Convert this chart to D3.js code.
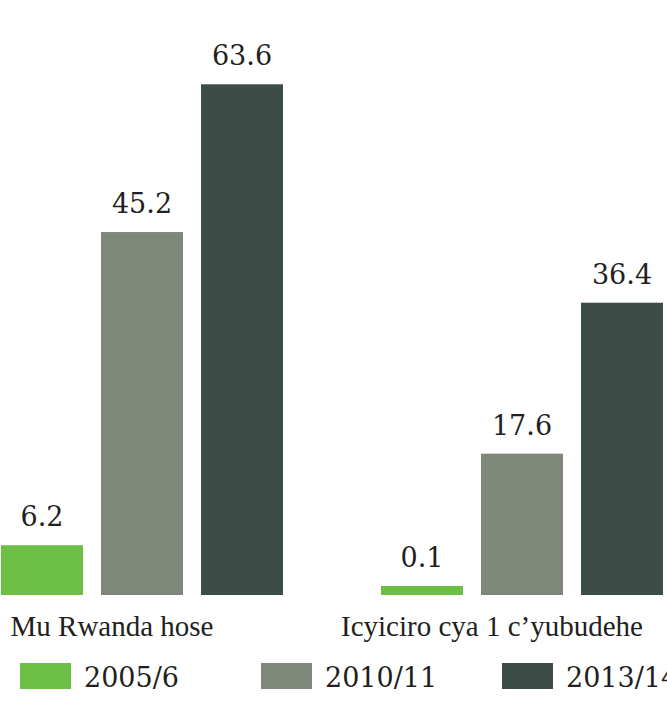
<!DOCTYPE html>
<html>
<head>
<meta charset="utf-8">
<script src="https://cdn.jsdelivr.net/npm/d3@7/dist/d3.min.js"></script>
<style>
  body { margin: 0; background: #fff; }
  svg { display: block; }
</style>
</head>
<body>
<div id="chart"></div>
<script>
// data
const categories = ["Mu Rwanda hose", "Icyiciro cya 1 c\u2019yubudehe"];
const series = ["2005/6", "2010/11", "2013/14"];
const values = {
    "2005/6": [6.2, 0.1],
    "2010/11": [45.2, 17.6],
    "2013/14": [63.6, 36.4]
};
const colors = ["#6dbe45", "#7f877b", "#3b4d46"];

const width = 667, height = 706;
const baseline = 595;
const minBar = 9; // tiny values still get a visible bar, like the original
const numFont = "'DejaVu Serif', serif";
const labelFont = "'Liberation Serif', serif";
const textColor = "#231f20";

const svg = d3.select("#chart")
    .append("svg")
    .attr("width", width)
    .attr("height", height);

// scales
const x0 = d3.scalePoint()
    .domain(categories)
    .range([142, 522]);

const x1 = d3.scaleBand()
    .domain(series)
    .range([-150, 150])
    .paddingInner(0.18)
    .paddingOuter(0.09);

const y = d3.scaleLinear()
    .domain([0, 70])
    .range([baseline, baseline - 70 * 8.03]);

const color = d3.scaleOrdinal()
    .domain(series)
    .range(colors);

// flatten for drawing
const rows = [];
series.forEach(s => {
    categories.forEach((c, i) => {
        rows.push({ category: c, series: s, value: values[s][i] });
    });
});

const barTop = d => Math.min(y(d.value), y(0) - minBar);

// bars
svg.append("g")
    .selectAll("rect")
    .data(rows)
    .join("rect")
    .attr("x", d => x0(d.category) + x1(d.series))
    .attr("y", d => barTop(d))
    .attr("width", x1.bandwidth())
    .attr("height", d => y(0) - barTop(d))
    .attr("fill", d => color(d.series));

// value labels
svg.append("g")
    .selectAll("text")
    .data(rows)
    .join("text")
    .attr("x", d => x0(d.category) + x1(d.series) + x1.bandwidth() / 2)
    .attr("y", d => barTop(d) - 19)
    .attr("text-anchor", "middle")
    .attr("font-family", numFont)
    .attr("font-size", 27)
    .attr("fill", textColor)
    .text(d => d.value.toFixed(1));

// category labels
svg.append("g")
    .selectAll("text")
    .data(categories)
    .join("text")
    .attr("x", d => x0(d) - 30)
    .attr("y", baseline + 41)
    .attr("text-anchor", "middle")
    .attr("font-family", labelFont)
    .attr("font-size", 29)
    .attr("fill", textColor)
    .text(d => d);

// legend
const lx = d3.scalePoint()
    .domain(series)
    .range([20, 502]);

const legend = svg.append("g")
    .selectAll("g")
    .data(series)
    .join("g")
    .attr("transform", d => `translate(${lx(d)}, 663)`);

legend.append("rect")
    .attr("width", 51)
    .attr("height", 26)
    .attr("fill", d => color(d));

legend.append("text")
    .attr("x", 64)
    .attr("y", 24)
    .attr("font-family", numFont)
    .attr("font-size", 27)
    .attr("fill", textColor)
    .text(d => d);
</script>
</body>
</html>
